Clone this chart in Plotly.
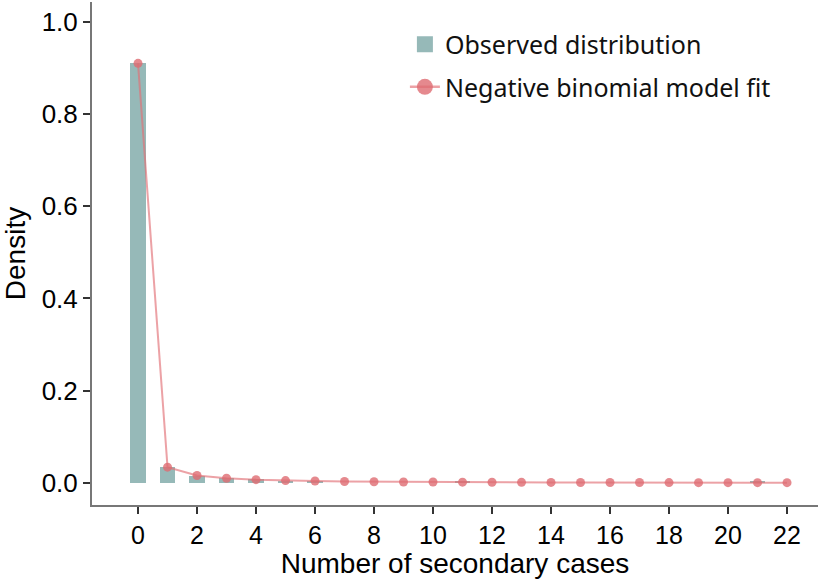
import plotly.graph_objects as go

cases = list(range(0, 23))
observed = [0.910, 0.035, 0.014, 0.011, 0.008, 0.003, 0.002, 0.0, 0.0, 0.0, 0.0, 0.002,
            0.0, 0.0, 0.0, 0.0, 0.0, 0.0, 0.0, 0.0, 0.0, 0.002, 0.0]
nb_fit = [0.910, 0.034, 0.016, 0.010, 0.007, 0.005, 0.004, 0.003, 0.0025, 0.002, 0.0018,
          0.0015, 0.0013, 0.0011, 0.001, 0.0009, 0.0008, 0.0007, 0.0006, 0.0005, 0.0005,
          0.0004, 0.0004]
x_ticks = list(range(0, 23, 2))
y_ticks = [0.0, 0.2, 0.4, 0.6, 0.8, 1.0]

BAR_COLOR = "#96B9B8"
LINE_COLOR = "rgba(226,112,118,0.65)"
MARK_COLOR = "rgba(222,108,114,0.8)"

fig = go.Figure()
fig.add_trace(go.Bar(x=cases, y=observed, width=0.52, name="Observed distribution",
                     marker=dict(color=BAR_COLOR, line=dict(width=0)), showlegend=False))
fig.add_trace(go.Scatter(x=cases, y=nb_fit, mode="lines+markers", name="Negative binomial model fit",
                         line=dict(color=LINE_COLOR, width=2),
                         marker=dict(color=MARK_COLOR, size=9), showlegend=False))
# legend entries (larger symbols, like the reference)
fig.add_trace(go.Scatter(x=[None], y=[None], mode="markers", name="Observed distribution",
                         legendgroup="a",
                         marker=dict(color=BAR_COLOR, size=24, symbol="square")))
fig.add_trace(go.Scatter(x=[None], y=[None], mode="lines+markers", name="Negative binomial model fit",
                         legendgroup="b",
                         line=dict(color=LINE_COLOR, width=2.5),
                         marker=dict(color=MARK_COLOR, size=20)))

fig.update_layout(
    width=836, height=579,
    margin=dict(l=92, r=18, t=2, b=74),
    plot_bgcolor="white", paper_bgcolor="white",
    font=dict(family="Liberation Sans, Arial", color="black"),
    legend=dict(x=0.431, y=0.961, xanchor="left", yanchor="top",
                font=dict(family="Noto Sans, Open Sans", size=25, color="#111"),
                bgcolor="rgba(0,0,0,0)", itemsizing="trace", tracegroupgap=7),
    showlegend=True,
    bargap=0,
)
fig.update_xaxes(range=[-1.56, 23.05], tickvals=x_ticks, ticktext=[str(v) for v in x_ticks],
                 showline=True, linecolor="#777", linewidth=2, ticks="outside", ticklen=7,
                 tickcolor="#333", tickwidth=1.5, showgrid=False, zeroline=False,
                 tickfont=dict(size=25, color="black"),
                 title=dict(text="Number of secondary cases", font=dict(size=28), standoff=2))
fig.update_yaxes(range=[-0.048, 1.043], tickvals=y_ticks, ticktext=[f"{v:.1f}" for v in y_ticks],
                 showline=True, linecolor="#777", linewidth=2, ticks="outside", ticklen=7,
                 tickcolor="#333", tickwidth=1.5, showgrid=False, zeroline=False,
                 tickfont=dict(size=26, color="black"),
                 title=dict(text="Density", font=dict(size=28), standoff=8))

fig.write_html("out.html")
